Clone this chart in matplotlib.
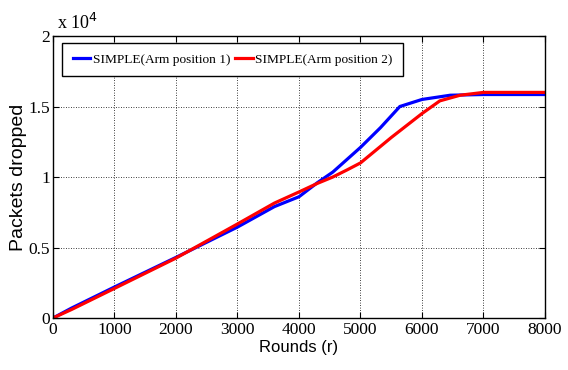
import numpy as np
from matplotlib import pyplot as plt
from matplotlib.ticker import FuncFormatter

# Rounds and packets dropped for the two arm positions
rounds_1 = [0, 300, 1000, 2000, 3000, 3600, 4000, 4300, 4550, 5000, 5325, 5640, 6000, 6460, 7000, 8000]
dropped_1 = [0, 700, 2200, 4300, 6450, 7900, 8600, 9600, 10350, 12100, 13500, 15000, 15500, 15800, 15850, 15850]

rounds_2 = [0, 300, 1000, 2000, 3000, 3600, 4000, 4300, 4550, 4780, 5000, 5500, 6000, 6290, 6620, 7000, 8000]
dropped_2 = [0, 600, 2100, 4250, 6670, 8150, 8940, 9550, 10000, 10500, 11000, 12800, 14500, 15400, 15800, 16000, 16000]

legend_names = ['SIMPLE(Arm position 1)', 'SIMPLE(Arm position 2)']
x_ticks = [0, 1000, 2000, 3000, 4000, 5000, 6000, 7000, 8000]
y_ticks = [0, 5000, 10000, 15000, 20000]

serif = 'Liberation Serif'
sans = 'Liberation Sans'

fig = plt.figure(figsize=(5.68, 3.70), dpi=100)
ax = fig.add_axes([0.0933, 0.1405, 0.8662, 0.7622])

ax.plot(rounds_1, dropped_1, color='blue', lw=2.3, label=legend_names[0])
ax.plot(rounds_2, dropped_2, color='red', lw=2.3, label=legend_names[1])

ax.set_xlim(0, 8000)
ax.set_ylim(0, 20000)
ax.set_xticks(x_ticks)
ax.set_yticks(y_ticks)
ax.yaxis.set_major_formatter(FuncFormatter(lambda v, p: f'{v / 1e4:g}'))

ax.grid(True, color='black', linestyle=(0, (1, 2)), linewidth=0.6)
ax.tick_params(direction='in', top=True, right=True, length=4, width=0.8,
               labelsize=12.5, pad=3)
ax.tick_params(axis='y', pad=2)
for lab in ax.get_xticklabels() + ax.get_yticklabels():
    lab.set_fontfamily(serif)
for sp in ax.spines.values():
    sp.set_linewidth(1.0)

# scale factor above the y axis
ax.text(0.008, 1.01, r'x 10$^{4}$', transform=ax.transAxes, fontsize=13,
        family=serif, ha='left', va='bottom')

ax.set_xlabel('Rounds (r)', fontsize=12, family=sans, labelpad=1)
fig.text(19 / 568, 1 - 177 / 370, 'Packets dropped', rotation=90, fontsize=14,
         family=sans, ha='center', va='center')

leg = ax.legend(loc='upper left', ncol=2, fancybox=False, framealpha=1,
                edgecolor='black', prop={'family': serif, 'size': 9.6},
                handlelength=1.3, handletextpad=0.2, columnspacing=0.4,
                borderpad=0.8, borderaxespad=0.3, bbox_to_anchor=(0.01, 0.99))
leg.get_frame().set_linewidth(1.0)

fig.savefig('out.png', dpi=100)
